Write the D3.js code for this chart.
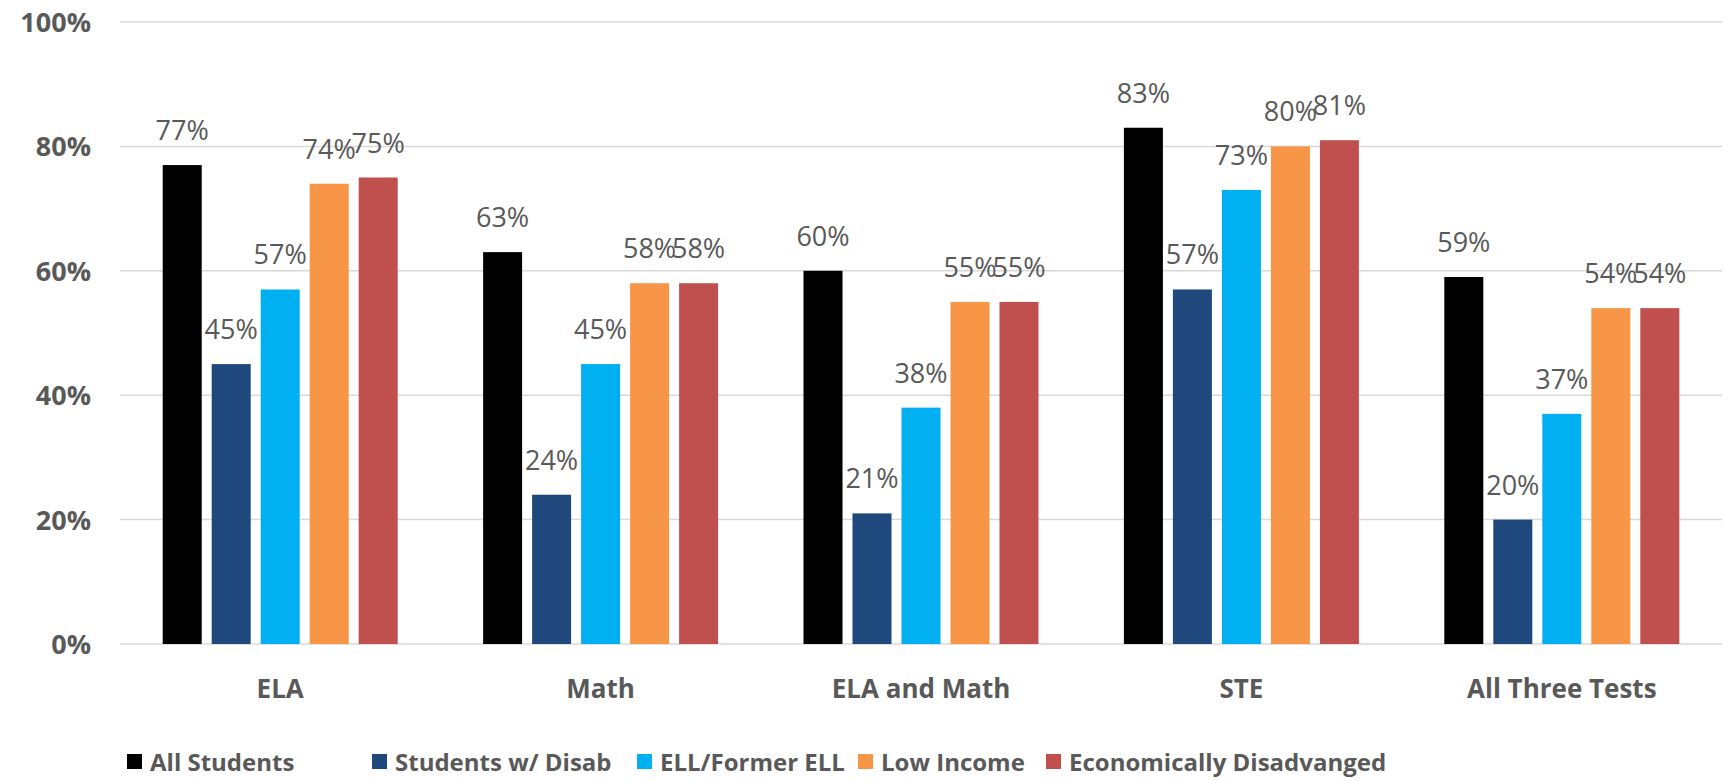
<!DOCTYPE html>
<html>
<head>
<meta charset="utf-8">
<script src="https://cdn.jsdelivr.net/npm/d3@7"></script>
<style>
  html, body { margin: 0; padding: 0; background: #fff; }
  svg { display: block; }
</style>
</head>
<body>
<svg id="chart" width="1729" height="781"></svg>
<script>
const categories = ["ELA", "Math", "ELA and Math", "STE", "All Three Tests"];
const seriesNames = ["All Students", "Students w/ Disab", "ELL/Former ELL", "Low Income", "Economically Disadvanged"];
const allStudents = [77, 63, 60, 83, 59];
const studentsWDisab = [45, 24, 21, 57, 20];
const ellFormerEll = [57, 45, 38, 73, 37];
const lowIncome = [74, 58, 55, 80, 54];
const econDisadv = [75, 58, 55, 81, 54];
const yTicks = [0, 20, 40, 60, 80, 100];

const seriesValues = [allStudents, studentsWDisab, ellFormerEll, lowIncome, econDisadv];
const colors = ["#000000", "#1f497d", "#00b0f0", "#f79646", "#c0504d"];

const svg = d3.select("#chart");
const plotLeft = 120, plotRight = 1722, plotTop = 22, plotBottom = 644;

const x0 = d3.scaleBand().domain(categories).range([plotLeft, plotRight]).padding(0);
const x1 = d3.scaleBand().domain(seriesNames)
  .range([(x0.bandwidth() - 235) / 2, (x0.bandwidth() + 235) / 2])
  .paddingInner(0.204).paddingOuter(0);
const y = d3.scaleLinear().domain([0, 100]).range([plotBottom, plotTop]);

// gridlines
svg.append("g").selectAll("line").data(yTicks).join("line")
  .attr("x1", plotLeft).attr("x2", plotRight)
  .attr("y1", d => y(d)).attr("y2", d => y(d))
  .attr("stroke", "#d9d9d9").attr("stroke-width", 1.5);

// y axis labels
const yAxis = d3.axisLeft(y).tickValues(yTicks).tickFormat(d => d + "%").tickSize(0).tickPadding(0);
const yg = svg.append("g").attr("transform", `translate(91,0)`).call(yAxis);
yg.select(".domain").remove();
yg.selectAll("text")
  .attr("font-family", "'Open Sans', sans-serif")
  .attr("font-weight", "bold")
  .attr("font-size", 27)
  .attr("fill", "#595959")
  .attr("dy", "0.35em");

// bars
const groups = svg.append("g").selectAll("g").data(categories).join("g")
  .attr("transform", d => `translate(${x0(d)},0)`);

groups.selectAll("rect")
  .data((c, i) => seriesNames.map((s, j) => ({ s, j, v: seriesValues[j][i] })))
  .join("rect")
  .attr("x", d => x1(d.s))
  .attr("width", x1.bandwidth())
  .attr("y", d => y(d.v))
  .attr("height", d => y(0) - y(d.v))
  .attr("fill", d => colors[d.j]);

groups.selectAll("text.val")
  .data((c, i) => seriesNames.map((s, j) => ({ s, j, v: seriesValues[j][i] })))
  .join("text")
  .attr("class", "val")
  .attr("x", d => x1(d.s) + x1.bandwidth() / 2)
  .attr("y", d => y(d.v) - 25)
  .attr("text-anchor", "middle")
  .attr("font-family", "'Open Sans', sans-serif")
  .attr("font-size", 27)
  .attr("fill", "#595959")
  .text(d => d.v + "%");

// x axis labels
const xAxis = d3.axisBottom(x0).tickSize(0).tickPadding(0);
const xg = svg.append("g").attr("transform", `translate(0,${plotBottom})`).call(xAxis);
xg.select(".domain").remove();
xg.selectAll("text")
  .attr("font-family", "'Open Sans', sans-serif")
  .attr("font-weight", "bold")
  .attr("font-size", 26)
  .attr("fill", "#595959")
  .attr("y", 54)
  .attr("dy", 0);

// legend
const legendX = [127, 372, 637, 858, 1046];
const lg = svg.append("g").selectAll("g").data(seriesNames).join("g")
  .attr("transform", (d, i) => `translate(${legendX[i]},762)`);
lg.append("rect").attr("x", 0).attr("y", -8).attr("width", 15).attr("height", 15)
  .attr("fill", (d, i) => colors[i]);
lg.append("text").attr("x", 23).attr("y", 9)
  .attr("font-family", "'Open Sans', sans-serif")
  .attr("font-weight", "bold")
  .attr("font-size", 24)
  .attr("fill", "#595959")
  .text(d => d);
</script>
</body>
</html>
